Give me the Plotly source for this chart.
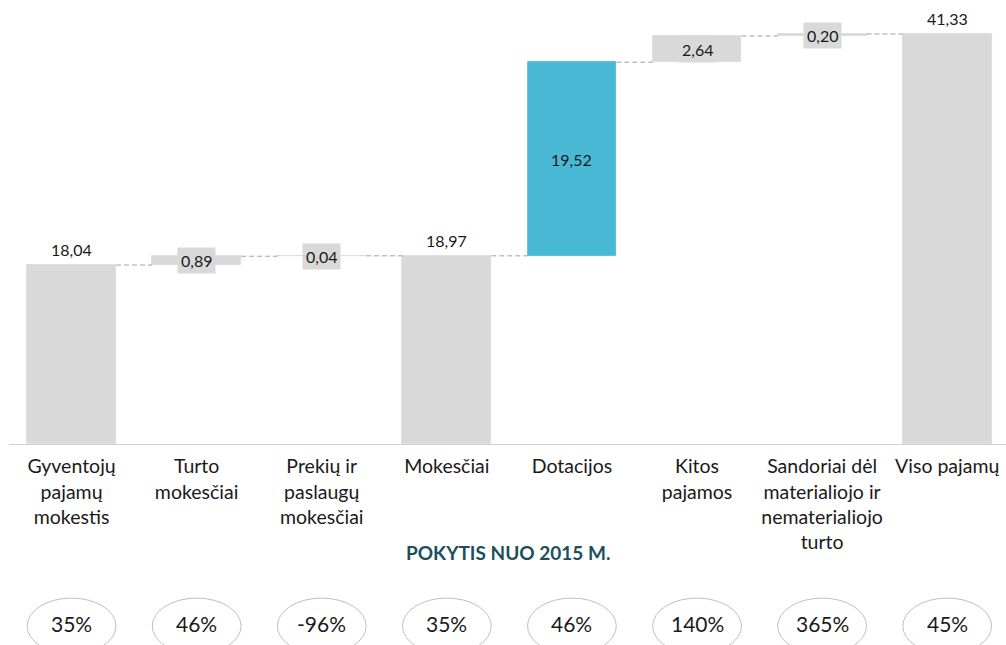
import plotly.graph_objects as go

# Data
categories = ["Gyventojų<br>pajamų<br>mokestis", "Turto<br>mokesčiai", "Prekių ir<br>paslaugų<br>mokesčiai",
              "Mokesčiai", "Dotacijos", "Kitos<br>pajamos",
              "Sandoriai dėl<br>materialiojo ir<br>nematerialiojo<br>turto", "Viso pajamų"]
values = [18.04, 0.89, 0.04, 18.97, 19.52, 2.64, 0.20, 41.33]
measures = ["absolute", "relative", "relative", "total", "relative", "relative", "relative", "total"]
changes = ["35%", "46%", "-96%", "35%", "46%", "140%", "365%", "45%"]

GREY = '#d9d9d9'
BLUE = '#4ab9d5'
bar_colors = [GREY, GREY, GREY, GREY, BLUE, GREY, GREY, GREY]
FONT = "Lato, 'Open Sans', sans-serif"
BAR_W = 0.71

# bases and cumulative levels
bases, heights, levels = [], [], []
running = 0
for v, m in zip(values, measures):
    if m == "relative":
        bases.append(running)
        running += v
    else:
        bases.append(0)
        running = v
    heights.append(v)
    levels.append(running)

xs = list(range(len(categories)))

fig = go.Figure()
fig.add_trace(go.Bar(
    x=xs, y=heights, base=bases, width=BAR_W,
    marker=dict(color=bar_colors, line=dict(width=0.8, color=bar_colors)),
    hoverinfo='skip'
))

# dashed connectors between bars
cx, cy = [], []
for i in range(len(xs) - 1):
    cx += [xs[i] + BAR_W / 2, xs[i + 1] - BAR_W / 2, None]
    cy += [levels[i], levels[i], None]
fig.add_trace(go.Scatter(x=cx, y=cy, mode='lines',
                         line=dict(color='#a0a0a0', width=1, dash='5px,3px'),
                         hoverinfo='skip'))

# value labels
for i, (v, m) in enumerate(zip(values, measures)):
    txt = f"{v:.2f}".replace(".", ",")
    if m == "relative":
        fig.add_annotation(x=xs[i], y=bases[i] + v / 2, text=txt, showarrow=False,
                           font=dict(size=16, color='#1a1a1a', family=FONT),
                           bgcolor=bar_colors[i], borderpad=3)
    else:
        fig.add_annotation(x=xs[i], y=levels[i], text=txt, showarrow=False,
                           yanchor='bottom', yshift=4,
                           font=dict(size=16, color='#1a1a1a', family=FONT))

# change section
fig.add_annotation(x=0.5, xref='paper', y=-0.245, yref='paper', yanchor='middle',
                   text="<b>POKYTIS NUO 2015 M.</b>", showarrow=False,
                   font=dict(size=19, color='#1d4e5c', family=FONT))
for i, c in enumerate(changes):
    fig.add_shape(type='circle', xref='x', yref='paper',
                  x0=xs[i] - BAR_W / 2, x1=xs[i] + BAR_W / 2, y0=-0.473, y1=-0.347,
                  line=dict(color='#bfbfbf', width=1), fillcolor='rgba(0,0,0,0)')
    fig.add_annotation(x=xs[i], y=-0.405, yref='paper', yanchor='middle', text=c, showarrow=False,
                       font=dict(size=21, color='#1a1a1a', family=FONT))

fig.update_layout(
    width=1006, height=645,
    margin=dict(l=9, r=0, t=0, b=201),
    paper_bgcolor='white', plot_bgcolor='white',
    showlegend=False, bargap=0,
    font=dict(family=FONT),
    xaxis=dict(range=[-0.5, 7.47], tickvals=xs, ticktext=categories,
               showline=True, linecolor='#d0d0d0', linewidth=1, showgrid=False,
               zeroline=False, ticks='', ticklabelstandoff=5,
               tickfont=dict(size=19.5, color='#1a1a1a')),
    yaxis=dict(range=[0, 44.76], visible=False, showgrid=False, zeroline=False),
)

fig.write_html("out.html", config={'displayModeBar': False},
               post_script="document.body.style.margin='0';")
